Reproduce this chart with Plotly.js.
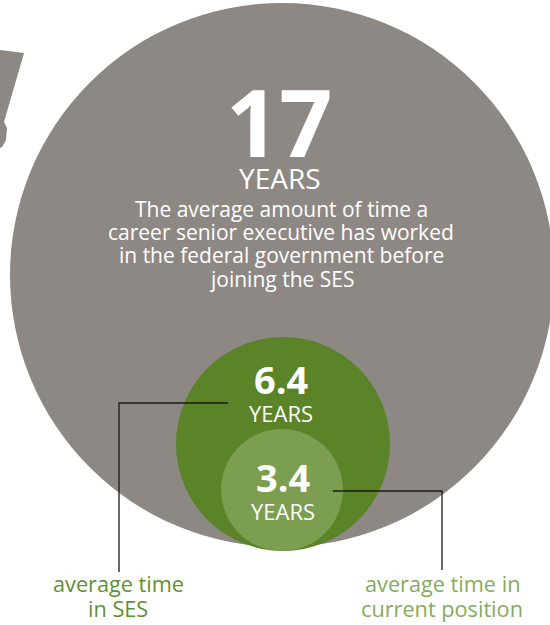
<!DOCTYPE html>
<html>
<head>
<meta charset="utf-8">
<script src="https://cdn.plot.ly/plotly-3.0.1.min.js"></script>
<style>html,body{margin:0;padding:0;background:#fff;}#chart{width:550px;height:625px;}</style>
</head>
<body>
<div id="chart"></div>
<script>
// Data
const values = [17, 6.4, 3.4];
const unitLabel = "YEARS";
const descLines = [
  "The average amount of time a",
  "career senior executive has worked",
  "in the federal government before",
  "joining the SES"
];
const sesLabel = ["average time", "in SES"];
const posLabel = ["average time in", "current position"];

const FONT = "Open Sans, Lato, sans-serif";
const GRAY = "#8e8884";
const GREEN = "#5a8427";
const LIGHT = "#7b9e50";

const shapes = [
  {type: "path", xref: "x", yref: "y",
   path: "M 0 50 L 24 53 L 4 122 L 7 128 L 6 140 L 2 147 L 0 148 Z",
   fillcolor: GRAY, line: {width: 0}},
  {type: "circle", xref: "x", yref: "y", x0: 10, x1: 554, y0: 3, y1: 547,
   fillcolor: GRAY, line: {width: 0}},
  {type: "circle", xref: "x", yref: "y", x0: 176, x1: 390, y0: 337, y1: 551,
   fillcolor: GREEN, line: {width: 0}},
  {type: "circle", xref: "x", yref: "y", x0: 221, x1: 343, y0: 429, y1: 551,
   fillcolor: LIGHT, line: {width: 0}},
  {type: "path", xref: "x", yref: "y", path: "M 228 403 L 119 403 L 119 572",
   line: {color: "#1a1a1a", width: 1.3}},
  {type: "path", xref: "x", yref: "y", path: "M 333 491 L 442 491 L 442 570",
   line: {color: "#1a1a1a", width: 1.3}}
];

const annotations = [
  {x: 279, y: 121, text: "<b>" + values[0] + "</b>", font: {family: FONT, size: 93, color: "#fff"}},
  {x: 280, y: 178, text: unitLabel, font: {family: FONT, size: 28, color: "#fff"}},
  {x: 281, y: 379, text: "<b>" + values[1] + "</b>", font: {family: FONT, size: 38, color: "#fff"}},
  {x: 281, y: 413, text: unitLabel, font: {family: FONT, size: 22, color: "#fff"}},
  {x: 283, y: 477, text: "<b>" + values[2] + "</b>", font: {family: FONT, size: 38, color: "#fff"}},
  {x: 283, y: 511, text: unitLabel, font: {family: FONT, size: 22, color: "#fff"}}
];
descLines.forEach((t, i) => annotations.push(
  {x: 281, y: 209 + i * 23.2, text: t, font: {family: FONT, size: 21, color: "#fff"}}));
sesLabel.forEach((t, i) => annotations.push(
  {x: 118, y: 583 + i * 25, text: t, font: {family: FONT, size: 21.7, color: "#5f9132"}}));
posLabel.forEach((t, i) => annotations.push(
  {x: 442, y: 583 + i * 25, text: t, font: {family: FONT, size: 21.7, color: "#86ab5c"}}));

const annots = annotations.map(a => Object.assign(
  {xref: "x", yref: "y", showarrow: false, xanchor: "center", yanchor: "middle"}, a));

const trace = {
  type: "scatter", mode: "markers",
  x: [228, 333], y: [403, 491],
  marker: {color: "#111", size: 6},
  hoverinfo: "skip", showlegend: false
};

const layout = {
  width: 550, height: 625,
  margin: {l: 0, r: 0, t: 0, b: 0},
  paper_bgcolor: "#fff", plot_bgcolor: "#fff",
  xaxis: {range: [0, 550], visible: false, fixedrange: true},
  yaxis: {range: [625, 0], visible: false, fixedrange: true},
  shapes: shapes,
  annotations: annots,
  showlegend: false
};

Plotly.newPlot("chart", [trace], layout, {staticPlot: true, displayModeBar: false});
</script>
</body>
</html>
